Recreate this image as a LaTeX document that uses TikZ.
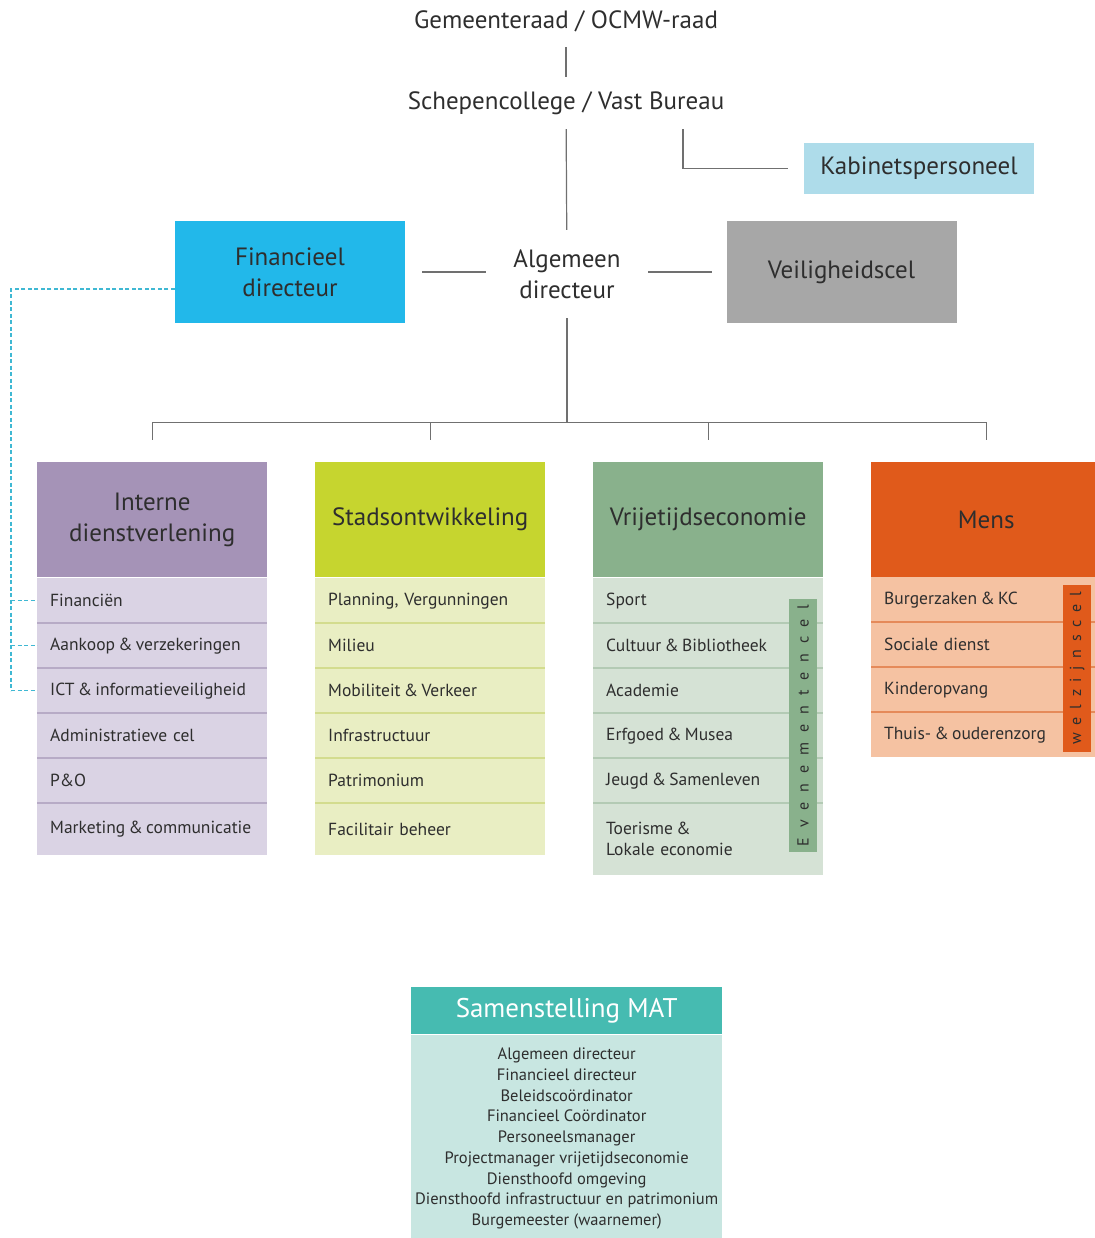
\documentclass[tikz,border=0pt]{standalone}
\usepackage{fontspec}
\setmainfont{PT Sans}
\newfontfamily\evenfont[LetterSpace=62]{PT Sans}
\newfontfamily\welzfont[LetterSpace=48]{PT Sans}
\usetikzlibrary{positioning}
\definecolor{txtdark}{HTML}{2E2E2E}
\definecolor{linegray}{HTML}{707070}
\definecolor{kabblue}{HTML}{AEDCEA}
\definecolor{fincyan}{HTML}{22B8EA}
\definecolor{veilgray}{HTML}{A7A7A7}
\definecolor{dashcyan}{HTML}{3FB8D3}
\definecolor{purphead}{HTML}{A593B7}
\definecolor{purprow}{HTML}{DAD3E4}
\definecolor{purpsep}{HTML}{B7ABC6}
\definecolor{limehead}{HTML}{C6D52F}
\definecolor{limerow}{HTML}{E9EEC3}
\definecolor{limesep}{HTML}{D3DC8E}
\definecolor{greenhead}{HTML}{89B18C}
\definecolor{greenrow}{HTML}{D5E2D5}
\definecolor{greensep}{HTML}{B3CAB4}
\definecolor{orahead}{HTML}{E05A1B}
\definecolor{orarow}{HTML}{F5C2A2}
\definecolor{orasep}{HTML}{E58A5A}
\definecolor{mathead}{HTML}{46BBB1}
\definecolor{matrow}{HTML}{C8E6E1}
\newcommand\amp{\kern-2.5pt\&\kern-2.5pt}

\begin{document}
\begin{tikzpicture}[x=1pt,y=-1pt,text=txtdark,
  level/.style={minimum height=52pt,inner sep=0pt,font=\fontsize{25}{31}\selectfont},
  topbox/.style={minimum width=230pt,minimum height=102pt,inner sep=0pt,align=center,font=\fontsize{25}{31}\selectfont},
  head/.style={anchor=north west,minimum width=230pt,minimum height=115pt,inner sep=0pt,align=center,font=\fontsize{25}{31}\selectfont},
  row/.style={anchor=north west,minimum height=45pt,text width=204pt,inner xsep=13pt,inner ysep=0pt,align=left,font=\fontsize{17.5}{21}\selectfont},
  vbox/.style={anchor=north west,minimum height=28pt,inner sep=0pt,rotate=90},
  orgline/.style={draw=linegray,line width=1.2pt},
  findash/.style={draw=dashcyan,line width=1.1pt,dash pattern=on 4pt off 2.5pt}]
\useasboundingbox (0,0) rectangle (1094,1238);
% top levels
\node[level] (gem) at (566,21) {Gemeenteraad / OCMW-raad};
\node[level] (schep) at (566,103) {Schepencollege / Vast Bureau};
\node[fill=kabblue,minimum width=230pt,minimum height=51pt,inner sep=0pt,font=\fontsize{25}{31}\selectfont] (kab) at (919,168.5) {Kabinetspersoneel};
\node[topbox,fill=fincyan] (fin) at (290,272) {Financieel\\directeur};
\node[topbox,minimum width=162pt,minimum height=88pt] (alg) at (567,274) {Algemeen\\directeur};
\node[topbox,fill=veilgray] (veil) at (841.5,272) {Veiligheidscel};
\draw[orgline] (gem) -- (schep);
\draw[orgline] (schep) -- (alg);
\draw[orgline,shorten >=16pt] ([xshift=117pt]schep.south) |- (kab.west);
\draw[orgline,shorten <=17pt] (fin.east) -- (alg.west |- fin.east);
\draw[orgline,shorten >=14pt] (alg.east |- veil.west) -- (veil.west);
% departments
\node[head,fill=purphead] (intern) at (37,462) {Interne\\dienstverlening};
\node[head,fill=limehead] (stad) at (315,462) {Stadsontwikkeling};
\node[head,fill=greenhead] (vrije) at (593,462) {Vrijetijdseconomie};
\node[head,fill=orahead] (mens) at (871,462) {Mens};
\foreach \d in {intern,stad,vrije,mens}
  \draw[orgline,shorten >=22pt] (alg.south) -- ++(0,104) -| (\d.north);
% rows
\foreach \t [count=\i] in {Financiën,Aankoop \amp{} verzekeringen,ICT \amp{} informatieveiligheid,Administratieve cel,P\&O,Marketing \amp{} communicatie}
  \node[row,fill=purprow,minimum height={\i==6 ? 52 : 45}] (intern\i) at (37,{578+45*(\i-1)}) {\t};
\foreach \t [count=\i] in {{Planning, Vergunningen},Milieu,Mobiliteit \amp{} Verkeer,Infrastructuur,Patrimonium,Facilitair beheer}
  \node[row,fill=limerow,minimum height={\i==6 ? 52 : 45}] (stad\i) at (315,{578+45*(\i-1)}) {\t};
\foreach \t [count=\i] in {Sport,Cultuur \amp{} Bibliotheek,Academie,Erfgoed \amp{} Musea,Jeugd \amp{} Samenleven}
  \node[row,fill=greenrow] (vrije\i) at (593,{578+45*(\i-1)}) {\t};
\node[row,fill=greenrow,minimum height=72pt] (vrije6) at (593,803) {Toerisme \amp\\Lokale economie};
\foreach \t [count=\i] in {Burgerzaken \amp{} KC,Sociale dienst,Kinderopvang,Thuis- \amp{} ouderenzorg}
  \node[row,fill=orarow,minimum height={\i==1 ? 46 : 45}] (mens\i) at (871,{577+45*(\i-1)}) {\t};
\foreach \i in {2,...,6}{
  \draw[purpsep,line width=1.2pt] (intern\i.north west) -- (intern\i.north east);
  \draw[limesep,line width=1.2pt] (stad\i.north west) -- (stad\i.north east);
  \draw[greensep,line width=1.2pt] (vrije\i.north west) -- (vrije\i.north east);}
\foreach \i in {2,3,4}
  \draw[orasep,line width=1.2pt] (mens\i.north west) -- (mens\i.north east);
% vertical cells
\node[vbox,fill=greenhead,minimum width=253pt,font=\evenfont\fontsize{16}{16}\selectfont] (even) at (789,852) {Evenementencel};
\node[vbox,fill=orahead,minimum width=167pt,font=\welzfont\fontsize{16}{16}\selectfont] (welz) at (1063,752) {welzijnscel};
% dashed link financieel directeur
\coordinate (dleft) at (11,289);
\draw[findash] ([yshift=-17pt]fin.west) -- (dleft) -- (dleft |- intern3.west);
\foreach \i in {1,2,3}
  \draw[findash] (dleft |- intern\i.west) -- (intern\i.west);
% MAT
\node[anchor=north west,fill=mathead,minimum width=311pt,minimum height=47pt,inner sep=0pt,text=white,font=\fontsize{27}{30}\selectfont] (mat) at (411,987) {Samenstelling MAT};
\node[below=0pt of mat,fill=matrow,minimum width=311pt,minimum height=208pt,inner sep=0pt,align=center,font=\fontsize{16.5}{20.75}\selectfont] (matlist) {Algemeen directeur\\Financieel directeur\\Beleidscoördinator\\Financieel Coördinator\\Personeelsmanager\\Projectmanager vrijetijdseconomie\\Diensthoofd omgeving\\Diensthoofd infrastructuur en patrimonium\\Burgemeester (waarnemer)};
\end{tikzpicture}
\end{document}
